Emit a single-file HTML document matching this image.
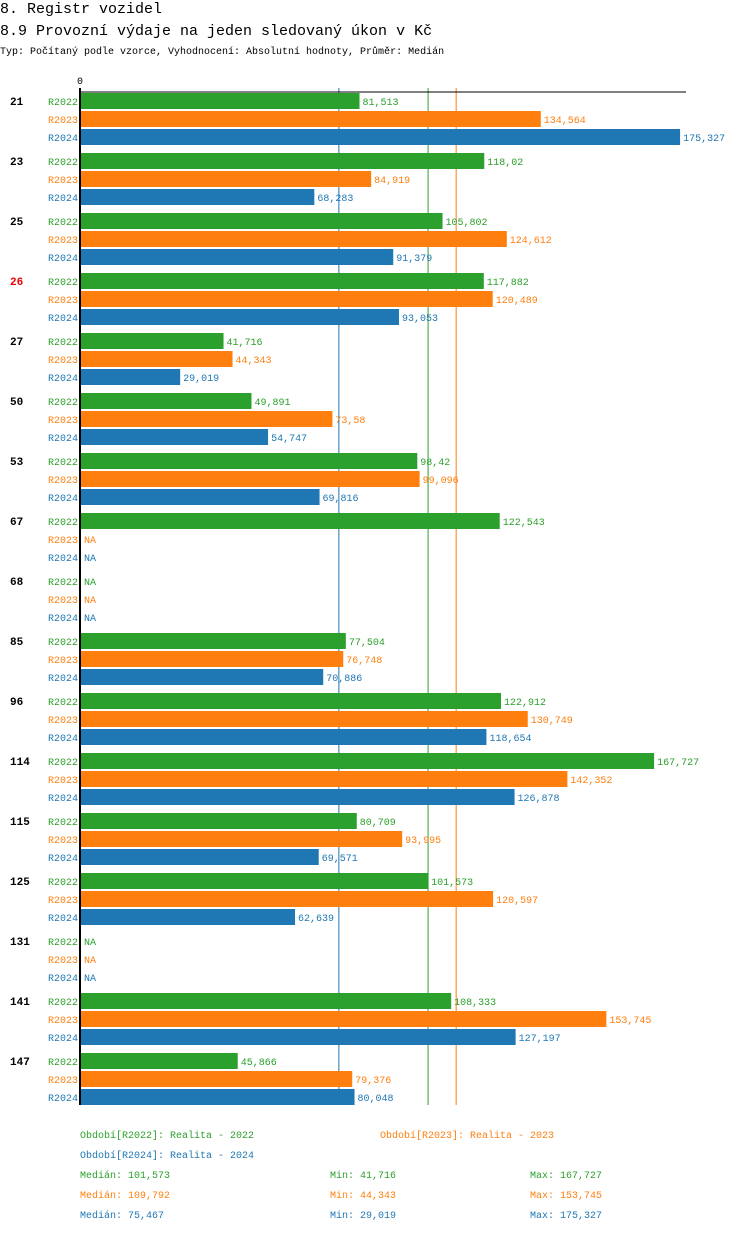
<!DOCTYPE html>
<html><head><meta charset="utf-8"><style>
body{margin:0;background:#fff;font-family:"Liberation Mono",monospace;}
svg text{font-family:"Liberation Mono",monospace;}
</style></head><body>
<svg width="750" height="1232" xmlns="http://www.w3.org/2000/svg">
<text x="0" y="13" font-size="15">8. Registr vozidel</text>
<text x="0" y="35" font-size="15">8.9 Provozní výdaje na jeden sledovaný úkon v Kč</text>
<text x="0" y="54" font-size="10">Typ: Počítaný podle vzorce, Vyhodnocení: Absolutní hodnoty, Průměr: Medián</text>
<g id="lines"></g>
<g id="plot"></g>
<text x="80" y="1138" font-size="10" fill="#2ca02c">Období[R2022]: Realita - 2022</text>
<text x="380" y="1138" font-size="10" fill="#ff7f0e">Období[R2023]: Realita - 2023</text>
<text x="80" y="1158" font-size="10" fill="#1f77b4">Období[R2024]: Realita - 2024</text>
<g id="stats"></g>
</svg>
<script>
const categories=["21","23","25","26","27","50","53","67","68","85","96","114","115","125","131","141","147"];
const r2022=[81513,118020,105802,117882,41716,49891,98420,122543,null,77504,122912,167727,80709,101573,null,108333,45866];
const r2023=[134564,84919,124612,120489,44343,73580,99096,null,null,76748,130749,142352,93995,120597,null,153745,79376];
const r2024=[175327,68283,91379,93053,29019,54747,69816,null,null,70886,118654,126878,69571,62639,null,127197,80048];
const seriesNames=["R2022","R2023","R2024"];
const colors=["#2ca02c","#ff7f0e","#1f77b4"];
const medians=[101573,109792,75467];
const mins=[41716,44343,29019];
const maxs=[167727,153745,175327];
const highlight="26";
const NS="http://www.w3.org/2000/svg";
const x0=81, k=0.003417;
const xs=v=>x0+v*k;
const g=document.getElementById('plot');
const lg=document.getElementById('lines');
function el(t,a,p){const e=document.createElementNS(NS,t);for(const n in a)e.setAttribute(n,a[n]);(p||g).appendChild(e);return e;}
const fmt=v=>{let s=v.toLocaleString('en-US');if(s.indexOf(',')>=0){s=s.replace(/0+$/,'');}return s;};
const all=[r2022,r2023,r2024];
const bottom=93+60*categories.length-8;
medians.forEach((m,j)=>{
  const l=el('line',{x1:xs(m),x2:xs(m),y1:88,y2:bottom,stroke:colors[j],'stroke-width':1},lg);
  
  
});
categories.forEach((c,i)=>{
  const top=93+60*i;
  const t=el('text',{x:10,y:top+12,'font-size':11,'font-weight':'bold',fill:c===highlight?'#e00':'#000'});
  t.textContent=c;
  
  
  all.forEach((s,j)=>{
    const y=top+18*j;
    const lt=el('text',{x:78,y:y+12,'font-size':10,fill:colors[j],'text-anchor':'end'});
    lt.textContent=seriesNames[j];
    
    
    const v=s[i];
    let endX=x0;
    if(v!=null){
      const r=el('rect',{x:x0,y:y,width:xs(v)-x0,height:16,fill:colors[j]});
      
      
      endX=xs(v);
    }
    const vt=el('text',{x:endX+3,y:y+12,'font-size':10,fill:colors[j]});
    vt.textContent=v==null?'NA':fmt(v);
    
    
  });
});
const ax=el('line',{x1:80,x2:80,y1:88,y2:bottom,stroke:'#000','stroke-width':2});


const tx=el('line',{x1:79,x2:686,y1:92,y2:92,stroke:'#000','stroke-width':1});


const z=el('text',{x:80,y:84,'font-size':10,'text-anchor':'middle'});
z.textContent='0';


const sg=document.getElementById('stats');
[0,1,2].forEach(j=>{
  const y=1178+20*j;
  [["Medián: ",medians[j],80],["Min: ",mins[j],330],["Max: ",maxs[j],530]].forEach(a=>{
    const t=el('text',{x:a[2],y:y,'font-size':10,fill:colors[j]},sg);
    t.textContent=a[0]+fmt(a[1]);
    
    
  });
});
</script>
</body></html>
